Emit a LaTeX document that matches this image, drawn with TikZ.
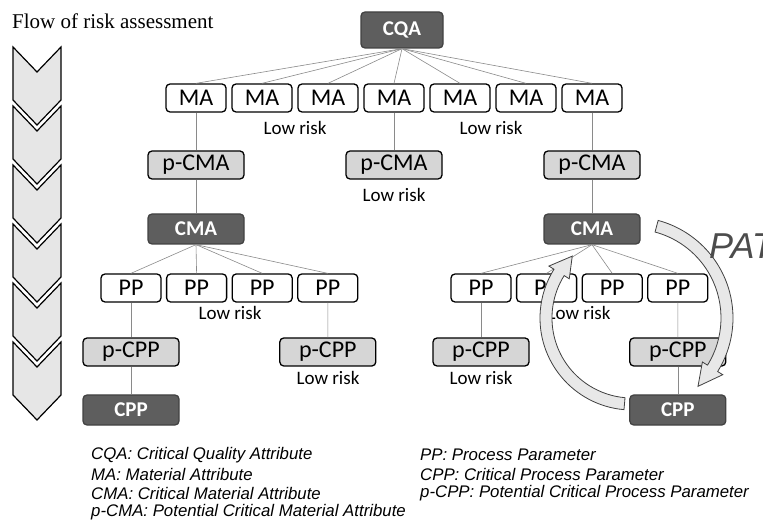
\documentclass[tikz,border=0pt]{standalone}
\usepackage{fontspec}
\setmainfont{Liberation Serif}
\setsansfont{Carlito}
\newfontfamily\legfont{Liberation Sans}
\usetikzlibrary{calc}
\definecolor{darkc}{HTML}{5E5E5E}
\definecolor{midc}{HTML}{D6D6D6}
\definecolor{chevc}{HTML}{E6E6E6}
\definecolor{linkc}{HTML}{8A8A8A}
\tikzset{
  wbox/.style={draw=black,line width=1.3pt,rounded corners=4pt,fill=white,minimum width=60pt,minimum height=28pt,inner sep=0pt,font=\sffamily\fontsize{24}{26}\selectfont},
  gbox/.style={wbox,fill=midc,minimum width=96pt},
  dbox/.style={wbox,draw=darkc!70!black,fill=darkc,text=white,minimum width=96pt,minimum height=30pt,font=\sffamily\bfseries\fontsize{21}{24}\selectfont},
  lk/.style={linkc,line width=0.6pt},
  lr/.style={inner sep=0pt,font=\sffamily\fontsize{19}{22}\selectfont},
  leg/.style={anchor=west,inner sep=0pt,font=\legfont\itshape\fontsize{16.8}{19}\selectfont},
  chev/.style={draw=black,line width=1.2pt,fill=chevc},
  patar/.style={draw=black!75,line width=0.8pt,fill=gray!18}
}

\begin{document}
\begin{tikzpicture}[x=1pt,y=-1pt]
\useasboundingbox (0,0) rectangle (763,526);
\node[anchor=west,inner sep=0pt,font=\fontsize{21}{24}\selectfont] (title) at (12,21) {Flow of risk assessment};
\foreach \t in {47,106,165,224,283,342}
  \draw[chev] (13,\t) -- (37,\t+25) -- (61,\t) -- (61,\t+53) -- (37,\t+78) -- (13,\t+53) -- cycle;
\node[dbox,minimum width=82pt,minimum height=36pt] (cqa) at (402,30) {CQA};
\foreach \i in {1,...,7}{
  \node[wbox] (ma\i) at ({196+66*(\i-1)},98) {MA};
  \draw[lk] (cqa.south) -- (ma\i.north);}
\node[gbox] (pcma1) at (196,165) {p-CMA};
\node[gbox] (pcma2) at (394,165) {p-CMA};
\node[gbox] (pcma3) at (592,165) {p-CMA};
\node[dbox] (cma1) at (196,229) {CMA};
\node[dbox] (cma2) at (592,229) {CMA};
\draw[lk] (ma1) -- (pcma1);
\draw[lk] (pcma1) -- (cma1);
\draw[lk] (ma4) -- (pcma2);
\draw[lk] (ma7) -- (pcma3);
\draw[lk] (pcma3) -- (cma2);
\foreach \i in {1,...,4}{
  \node[wbox] (pp\i) at ({131+65.6*(\i-1)},288) {PP};
  \draw[lk] (cma1.south) -- (pp\i.north);}
\foreach \i in {5,...,8}{
  \node[wbox] (pp\i) at ({481+65.6*(\i-5)},288) {PP};
  \draw[lk] (cma2.south) -- (pp\i.north);}
\node[gbox] (pcpp1) at (131,352) {p-CPP};
\node[gbox] (pcpp2) at (327.8,352) {p-CPP};
\node[gbox] (pcpp3) at (481,352) {p-CPP};
\node[gbox] (pcpp4) at (677.8,352) {p-CPP};
\node[dbox] (cpp1) at (131,410) {CPP};
\node[dbox] (cpp2) at (677.8,410) {CPP};
\draw[lk] (pp1) -- (pcpp1);
\draw[lk] (pcpp1) -- (cpp1);
\draw[lk] (pp4) -- (pcpp2);
\draw[lk] (pp5) -- (pcpp3);
\draw[lk] (pp8) -- (pcpp4);
\draw[lk] (pcpp4) -- (cpp2);
\foreach \n/\x/\y in {1/295/128,2/491/128,3/394/195,4/230/313,5/579/313,6/328/378,7/481/378}
  \node[lr] (lr\n) at (\x,\y) {Low risk};
\coordinate (pc) at (632,318);
\draw[patar] ($(pc)+(-75:101)$) arc[start angle=-75,end angle=32,radius=101] -- ($(pc)+(32:107)$) -- ($(pc)+(46:95)$) -- ($(pc)+(32:83)$) -- ($(pc)+(32:89)$) arc[start angle=32,end angle=-75,radius=89] -- cycle;
\draw[patar] ($(pc)+(95:92)$) arc[start angle=95,end angle=212,radius=92] -- ($(pc)+(212:98)$) -- ($(pc)+(226:86)$) -- ($(pc)+(212:74)$) -- ($(pc)+(212:80)$) arc[start angle=212,end angle=95,radius=80] -- cycle;
\node[anchor=west,inner sep=0pt,text=gray!60!black,font=\legfont\itshape\fontsize{36}{40}\selectfont] (pat) at (709,246) {PAT};
\foreach \n/\x/\y/\s in {1/91/455/CQA: Critical Quality Attribute,2/91/474/MA: Material Attribute,3/91/493/CMA: Critical Material Attribute,4/91/512/p-CMA: Potential Critical Material Attribute,5/420/455/PP: Process Parameter,6/420/474/CPP: Critical Process Parameter,7/420/493/p-CPP: Potential Critical Process Parameter}
  \node[leg] (leg\n) at (\x,\y) {\s};
\end{tikzpicture}
\end{document}
